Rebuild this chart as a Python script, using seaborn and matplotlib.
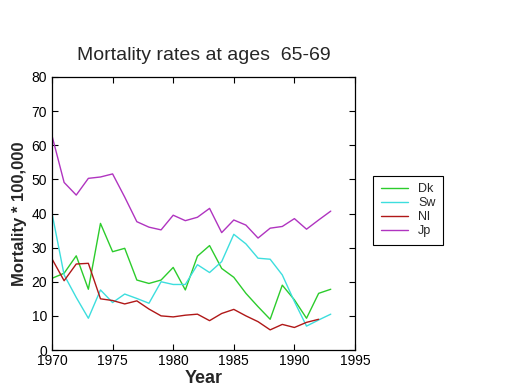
import matplotlib
matplotlib.use("Agg")
import matplotlib.pyplot as plt
import numpy as np
import pandas as pd
import seaborn as sns

years = list(range(1970, 1994))
dk = [21.0, 22.5, 27.6, 17.8, 37.1, 28.8, 29.8, 20.5, 19.5, 20.5, 24.2, 17.6,
      27.5, 30.6, 23.9, 21.3, 16.6, 12.7, 9.0, 19.0, 14.7, 9.3, 16.6, 17.8]
sw = [40.1, 22.0, 15.4, 9.3, 17.6, 13.9, 16.4, 15.1, 13.7, 20.0, 19.2, 19.2,
      25.0, 22.7, 25.9, 33.9, 31.1, 26.9, 26.6, 22.0, 14.2, 7.0, 8.8, 10.5]
nl = [26.7, 20.3, 25.2, 25.4, 15.0, 14.5, 13.5, 14.4, 12.0, 10.0, 9.7, 10.2,
      10.5, 8.6, 10.7, 11.9, 10.0, 8.3, 5.9, 7.5, 6.6, 8.1, 9.0, np.nan]
jp = [62.8, 49.1, 45.4, 50.3, 50.7, 51.6, 44.8, 37.6, 36.0, 35.2, 39.5, 37.9,
      38.9, 41.5, 34.4, 38.1, 36.6, 32.8, 35.7, 36.2, 38.5, 35.4, 38.1, 40.7]
countries = ["Dk", "Sw", "Nl", "Jp"]
colors = ["#2ccc2c", "#3ddede", "#b01818", "#b034c0"]

df = pd.DataFrame({"Year": years, "Dk": dk, "Sw": sw, "Nl": nl, "Jp": jp})
long = df.melt(id_vars="Year", var_name="country", value_name="rate").dropna()

sns.set_style("ticks")
plt.rcParams["font.family"] = ["Liberation Sans", "DejaVu Sans"]

fig = plt.figure(figsize=(5.2, 3.9), dpi=100)
ax = fig.add_axes([52 / 520, 1 - 350 / 390, 303 / 520, 273 / 390])
sns.lineplot(data=long, x="Year", y="rate", hue="country", hue_order=countries,
             palette=colors, linewidth=1.0, ax=ax, legend=True)

ax.set_xlim(1970, 1995)
ax.set_ylim(0, 80)
ax.set_xticks(range(1970, 1996, 5))
ax.set_yticks(range(0, 81, 10))
ax.tick_params(direction="in", top=True, right=True, labelsize=10, length=4,
               width=0.8, colors="black")
ax.tick_params(axis="x", pad=3)
for s in ax.spines.values():
    s.set_visible(True)
    s.set_linewidth(0.9)
    s.set_color("black")

ax.set_title("Mortality rates at ages  65-69", fontsize=14, pad=12)
ax.set_xlabel("Year", fontsize=13, fontweight="bold", labelpad=1)
ax.set_ylabel("Mortality * 100,000", fontsize=12, fontweight="bold", labelpad=3)

handles, labels = ax.get_legend_handles_labels()
ax.legend(handles, labels, loc="upper left", bbox_to_anchor=(373 / 520, 1 - 176 / 390),
          bbox_transform=fig.transFigure, fancybox=False, edgecolor="black",
          framealpha=1, fontsize=9, handlelength=2.2, borderpad=0.6,
          labelspacing=0.15, borderaxespad=0)
ax.get_legend().get_frame().set_linewidth(0.8)

fig.savefig("out.png", dpi=100)
